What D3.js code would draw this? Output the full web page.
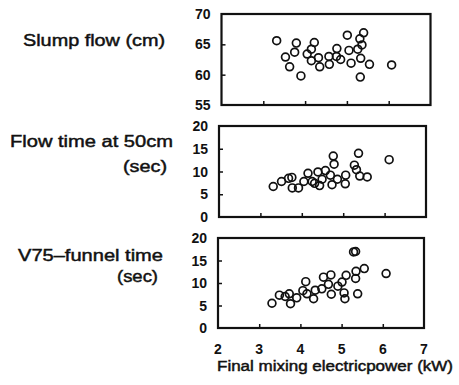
<!DOCTYPE html>
<html>
<head>
<meta charset="utf-8">
<script src="https://cdn.jsdelivr.net/npm/d3@7"></script>
<style>
  html, body { margin: 0; padding: 0; background: #fff; }
  svg { display: block; }
  text { font-family: "Liberation Sans", Arial, sans-serif; fill: #111; }
</style>
</head>
<body>
<svg id="chart" width="459" height="385"></svg>
<script>
// ---- data ----
const xTickValues = [2, 3, 4, 5, 6, 7];

const slumpX = [3.32, 3.79, 3.75, 3.53, 3.63, 3.90, 4.22, 4.15, 4.05, 4.15, 4.32, 4.35, 4.57, 4.58,
                4.76, 4.75, 4.85, 5.01, 5.05, 5.10, 5.26, 5.31, 5.40, 5.36, 5.33, 5.54, 5.32, 6.07];
const slumpY = [65.6, 65.2, 63.7, 62.9, 61.3, 59.8, 65.3, 64.2, 63.4, 62.3, 62.8, 61.3, 63.0, 61.7,
                64.3, 63.0, 62.5, 66.5, 64.0, 61.9, 64.2, 65.9, 66.9, 64.9, 62.7, 61.7, 59.6, 61.6];
const slumpTicks = [55, 60, 65, 70];

const flowX = [3.31, 3.51, 3.68, 3.76, 3.77, 3.92, 4.05, 4.15, 4.25, 4.31, 4.43, 4.39, 4.57, 4.69,
               4.76, 4.78, 4.73, 4.86, 5.06, 5.05, 5.27, 5.32, 5.37, 5.40, 5.58, 6.11, 4.49];
const flowY = [6.7, 7.8, 8.5, 8.7, 6.4, 6.4, 7.8, 9.6, 7.8, 7.4, 6.9, 9.9, 10.2, 9.2,
               13.4, 11.6, 7.1, 8.3, 9.2, 7.3, 11.4, 10.4, 14.0, 9.0, 8.8, 12.6, 8.3];
const flowTicks = [0, 5, 10, 15, 20];

const funnelX = [3.31, 3.49, 3.63, 3.73, 3.76, 3.91, 4.06, 4.13, 4.16, 4.32, 4.36, 4.52, 4.56, 4.68,
                 4.74, 4.75, 4.91, 5.01, 5.11, 5.06, 5.08, 5.29, 5.34, 5.35, 5.34, 5.39, 5.55, 6.08];
const funnelY = [5.5, 7.3, 7.0, 7.6, 5.4, 6.7, 8.3, 10.3, 7.6, 6.5, 8.4, 8.7, 11.3, 9.7,
                 11.8, 7.5, 9.3, 10.2, 11.7, 7.8, 6.5, 16.9, 17.0, 12.6, 11.0, 7.6, 13.2, 12.1];
const funnelTicks = [0, 5, 10, 15, 20];

const rowLabels = [
  ["Slump flow (cm)"],
  ["Flow time at 50cm", "(sec)"],
  ["V75\u2013funnel time", "(sec)"]
];
const xTitle = "Final mixing electricpower (kW)";

// ---- layout ----
const panels = [
  { xs: slumpX,  ys: slumpY,  ticks: slumpTicks,  x0: 221.5, x1: 430.5, top: 14,  bottom: 105,
    labels: [{x: 23, y: 46, len: 142}] },
  { xs: flowX,   ys: flowY,   ticks: flowTicks,   x0: 219,   x1: 426,   top: 126, bottom: 217,
    labels: [{x: 10, y: 147, len: 163}, {x: 123, y: 171.5, len: 44}] },
  { xs: funnelX, ys: funnelY, ticks: funnelTicks, x0: 218,   x1: 424,   top: 238, bottom: 328,
    labels: [{x: 18, y: 260.5, len: 145}, {x: 117, y: 281.5, len: 41}] }
];

const svg = d3.select("#chart");

panels.forEach((p, i) => {
  const x = d3.scaleLinear().domain([xTickValues[0], xTickValues[xTickValues.length - 1]]).range([p.x0, p.x1]);
  const y = d3.scaleLinear().domain([p.ticks[0], p.ticks[p.ticks.length - 1]]).range([p.bottom, p.top]);
  const g = svg.append("g");

  // y tick labels (outside, left)
  g.selectAll("text.yt").data(p.ticks).join("text")
    .attr("class", "yt")
    .attr("x", p.x0 - 11)
    .attr("y", d => y(d) + 5)
    .attr("text-anchor", "end")
    .style("font-size", "14px").style("font-weight", "bold")
    .text(d => d);

  // inner y ticks
  const yAxis = d3.axisRight(y).tickValues(p.ticks.slice(1, -1)).tickSize(4).tickFormat("");
  g.append("g").attr("transform", `translate(${p.x0},0)`).call(yAxis)
    .call(s => s.select(".domain").remove())
    .call(s => s.selectAll("line").attr("stroke", "#111").attr("stroke-width", 1.5));

  // inner x ticks
  const xAxis = d3.axisTop(x).tickValues(xTickValues.slice(1, -1)).tickSize(4).tickFormat("");
  g.append("g").attr("transform", `translate(0,${p.bottom})`).call(xAxis)
    .call(s => s.select(".domain").remove())
    .call(s => s.selectAll("line").attr("stroke", "#111").attr("stroke-width", 1.5));

  // frame
  g.append("rect")
    .attr("x", p.x0).attr("y", p.top)
    .attr("width", p.x1 - p.x0).attr("height", p.bottom - p.top)
    .attr("fill", "none").attr("stroke", "#111").attr("stroke-width", 2.2);

  // points
  const pts = p.xs.map((v, k) => [v, p.ys[k]]);
  g.selectAll("circle").data(pts).join("circle")
    .attr("cx", d => x(d[0])).attr("cy", d => y(d[1])).attr("r", 3.9)
    .attr("fill", "none").attr("stroke", "#111").attr("stroke-width", 1.7);

  // row labels
  rowLabels[i].forEach((t, k) => {
    const L = p.labels[k];
    g.append("text")
      .attr("x", L.x).attr("y", L.y)
      .attr("textLength", L.len).attr("lengthAdjust", "spacingAndGlyphs")
      .style("font-size", "16px").style("font-weight", "normal")
      .style("stroke", "#111").style("stroke-width", 0.45)
      .text(t);
  });

  // bottom axis labels on last panel
  if (i === panels.length - 1) {
    svg.append("g").selectAll("text").data(xTickValues).join("text")
      .attr("x", d => x(d)).attr("y", 353.5)
      .attr("text-anchor", "middle")
      .style("font-size", "14px").style("font-weight", "bold")
      .text(d => d);
    svg.append("text")
      .attr("x", 217).attr("y", 371)
      .attr("textLength", 236).attr("lengthAdjust", "spacingAndGlyphs")
      .style("font-size", "14px").style("font-weight", "normal")
      .style("stroke", "#111").style("stroke-width", 0.45)
      .text(xTitle);
  }
});
</script>
</body>
</html>
